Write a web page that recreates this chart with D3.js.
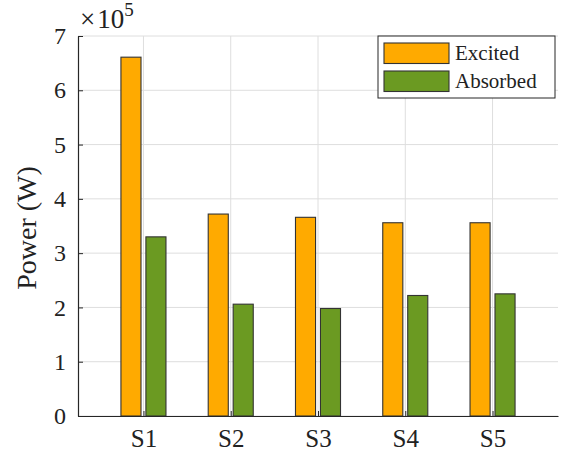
<!DOCTYPE html>
<html>
<head>
<meta charset="utf-8">
<script src="https://cdn.jsdelivr.net/npm/d3@7/dist/d3.min.js"></script>
<style>
  html, body { margin: 0; padding: 0; background: #fff; }
</style>
</head>
<body>
<svg id="chart" width="566" height="456" font-family="Liberation Serif, serif"></svg>
<script>
// Power per station, in watts
const categories = ["S1", "S2", "S3", "S4", "S5"];
const excited = [6.61e5, 3.72e5, 3.66e5, 3.56e5, 3.56e5];
const absorbed = [3.30e5, 2.06e5, 1.98e5, 2.22e5, 2.25e5];
const seriesNames = ["Excited", "Absorbed"];
const seriesColors = ["#FFAA00", "#6B9A22"];
const yTicks = [0, 1, 2, 3, 4, 5, 6, 7];
const exponent = 5;

const FONT = "Liberation Serif, serif";
const svg = d3.select("#chart");
const margin = { left: 78, right: 8, top: 36, bottom: 40 };
const W = 566, H = 456;
const scaleFactor = Math.pow(10, exponent);

const x = d3.scaleLinear().domain([0.25, 5.75]).range([margin.left, W - margin.right]);
const y = d3.scaleLinear().domain([0, 7]).range([H - margin.bottom, margin.top]);

const barW = 0.23;      // bar width in category units
const offset = 0.143;   // distance of each bar centre from its category centre

// grid
const grid = svg.append("g");
grid.selectAll("line.h").data(yTicks).join("line")
  .attr("x1", x.range()[0]).attr("x2", x.range()[1])
  .attr("y1", d => y(d)).attr("y2", d => y(d))
  .attr("stroke", "#dedede").attr("stroke-width", 1);
grid.selectAll("line.v").data(categories).join("line")
  .attr("x1", (d, i) => x(i + 1)).attr("x2", (d, i) => x(i + 1))
  .attr("y1", y(0)).attr("y2", y(7))
  .attr("stroke", "#dedede").attr("stroke-width", 1);

// bars
[excited, absorbed].forEach((vals, s) => {
  svg.append("g").selectAll("rect").data(vals).join("rect")
    .attr("x", (d, i) => x(i + 1 + (s === 0 ? -offset : offset) - barW / 2))
    .attr("width", x(barW) - x(0))
    .attr("y", d => y(d / scaleFactor))
    .attr("height", d => y(0) - y(d / scaleFactor))
    .attr("fill", seriesColors[s])
    .attr("stroke", "#333").attr("stroke-width", 1.1);
});

// axes
const ya = svg.append("g").attr("transform", `translate(${margin.left},0)`)
  .call(d3.axisLeft(y).tickValues(yTicks).tickSizeInner(-5).tickSizeOuter(0).tickPadding(12).tickFormat(d3.format("d")))
  .attr("font-family", FONT).attr("font-size", 24);
ya.select(".domain").attr("stroke", "#262626").attr("stroke-width", 1.2);
ya.selectAll(".tick line").attr("stroke", "#262626");
ya.selectAll(".tick text").attr("fill", "#222");

const xa = svg.append("g").attr("transform", `translate(0,${y(0)})`)
  .call(d3.axisBottom(x).tickValues([1, 2, 3, 4, 5]).tickSizeInner(-5).tickSizeOuter(0).tickPadding(13).tickFormat(d => categories[d - 1]))
  .attr("font-family", FONT).attr("font-size", 25);
xa.select(".domain").attr("stroke", "#262626").attr("stroke-width", 1.2);
xa.selectAll(".tick line").attr("stroke", "#262626");
xa.selectAll(".tick text").attr("fill", "#222");

// exponent label
const expLabel = svg.append("text").attr("x", margin.left + 2).attr("y", 28)
  .attr("font-size", 27).attr("fill", "#222");
expLabel.append("tspan").text("\u00d7");
expLabel.append("tspan").attr("dx", 2).text("10");
expLabel.append("tspan").attr("dy", -12).attr("font-size", 19).text(exponent);

// y axis title
svg.append("text")
  .attr("transform", `translate(36,${(y(0) + y(7)) / 2 + 2}) rotate(-90)`)
  .attr("text-anchor", "middle")
  .attr("font-size", 28).attr("fill", "#222")
  .text("Power (W)");

// legend
const lg = svg.append("g").attr("transform", "translate(378,36)");
lg.append("rect").attr("width", 177).attr("height", 62)
  .attr("fill", "#fff").attr("stroke", "#262626").attr("stroke-width", 1);
seriesNames.forEach((name, i) => {
  lg.append("rect").attr("x", 6).attr("y", 7 + i * 28).attr("width", 65).attr("height", 20.5)
    .attr("fill", seriesColors[i]).attr("stroke", "#333").attr("stroke-width", 1.1);
  lg.append("text").attr("x", 77).attr("y", 24 + i * 28).attr("font-size", 21).attr("fill", "#222").text(name);
});
</script>
</body>
</html>
